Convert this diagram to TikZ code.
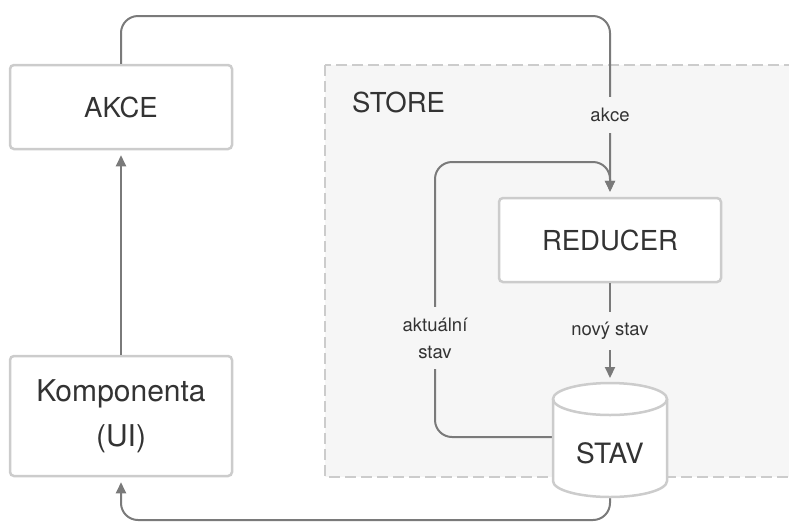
\documentclass[tikz,border=0pt]{standalone}
\usepackage{fontspec}
\setmainfont{TeX Gyre Heros}
\usetikzlibrary{arrows.meta}
\definecolor{linegray}{HTML}{7A7A7A}
\definecolor{boxgray}{HTML}{CCCCCC}
\definecolor{storebg}{HTML}{F6F6F6}
\definecolor{txt}{HTML}{333333}

\begin{document}
\begin{tikzpicture}[x=1pt,y=-1pt,
  box/.style={draw=boxgray, line width=2.5pt, fill=white, rounded corners=4pt,
    minimum width=222pt, inner sep=0pt, text=txt, align=center,
    font=\fontsize{27.5}{30}\selectfont},
  flow/.style={draw=linegray, line width=2pt, rounded corners=17pt},
  tip/.style={-{Triangle[length=11pt,width=10pt]}, shorten >=5pt},
  lbl/.style={fill=storebg, text=txt, align=center, inner xsep=2pt,
    font=\fontsize{18.5}{27}\selectfont}]

\useasboundingbox (0,0) rectangle (789,523);
\clip (0,0) rectangle (789,523);

% the store area
\draw[draw=boxgray, fill=storebg, line width=2.5pt, dash pattern=on 11pt off 5pt]
  (325,65) rectangle (820,477);
\node[anchor=base west, text=txt, font=\fontsize{27.5}{30}\selectfont, inner sep=0pt]
  (storelbl) at (352,112) {STORE};

% boxes
\node[box, minimum height=84pt]  (akce)    at (121,107) {AKCE};
\node[box, minimum height=120pt, font=\fontsize{30}{45}\selectfont]
  (komp) at (121,416) {Komponenta\\(UI)};
\node[box, minimum height=84pt]  (reducer) at (610,240) {REDUCER};

% state cylinder
\node[minimum width=114pt, minimum height=114pt, inner sep=0pt] (stav) at (610,440) {};
\coordinate (stavtop)    at (610,383);
\coordinate (stavleft)   at (553,437);
\coordinate (stavbottom) at (610,497);

% connectors
\draw[flow, tip] (akce.north) -- (121,16) -- (610,16) -- (reducer.north);
\draw[flow, tip] (komp.north) -- (akce.south);
\draw[flow, tip] (reducer.south) -- (stavtop);
\draw[flow, tip] (stavleft) -- (435,437) -- (435,162) -- (610,162) -- (reducer.north);
\draw[flow, tip] (stavbottom) -- (610,520) -- (121,520) -- (komp.south);

% cylinder body drawn over the connector ends
\fill[white] (553,399) -- (553,481) arc[start angle=180, end angle=360, x radius=57pt, y radius=16pt]
  -- (667,399) arc[start angle=0, end angle=180, x radius=57pt, y radius=16pt] -- cycle;
\draw[boxgray, line width=2.5pt] (553,399) -- (553,481)
  arc[start angle=180, end angle=360, x radius=57pt, y radius=16pt] -- (667,399);
\draw[boxgray, line width=2.5pt] (610,399) ellipse [x radius=57pt, y radius=16pt];
\node[text=txt, font=\fontsize{28}{30}\selectfont, inner sep=0pt] (stavtxt) at (610,453) {STAV};

% connector labels
\node[lbl, minimum height=36pt, inner ysep=0pt] (lakce) at (610,115) {akce};
\node[lbl, minimum height=38pt, inner ysep=0pt] (lnovy) at (610,331) {nový stav};
\node[lbl, inner ysep=11pt] (laktual) at (435,338) {aktuální\\stav};
\end{tikzpicture}
\end{document}
